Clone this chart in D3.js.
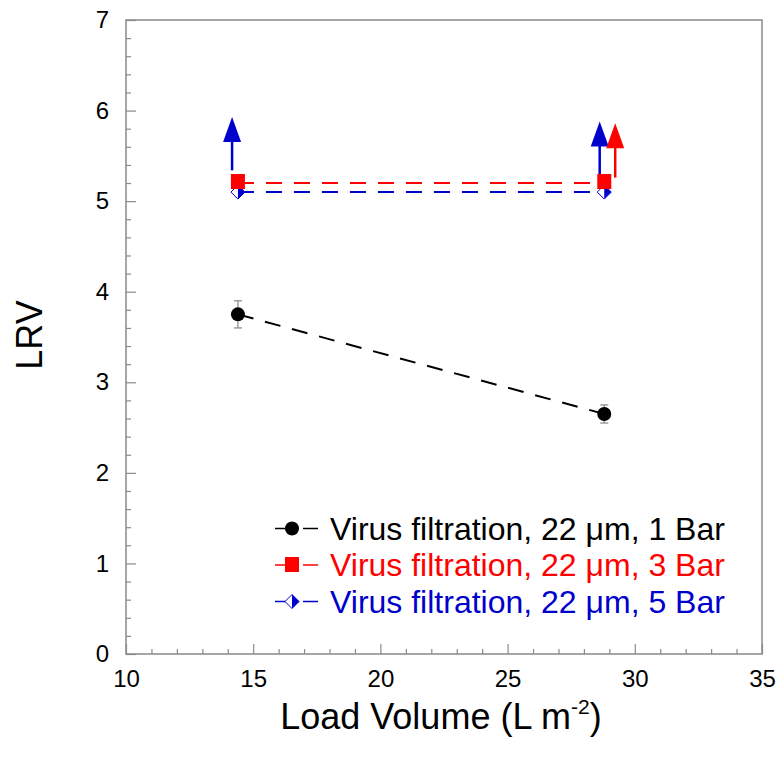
<!DOCTYPE html>
<html>
<head>
<meta charset="utf-8">
<script src="https://cdn.jsdelivr.net/npm/d3@7"></script>
<style>
  body { margin: 0; background: #fff; }
  text { font-family: "Liberation Sans", Arial, Helvetica, sans-serif; }
</style>
</head>
<body>
<div id="chart"></div>
<script>
// data
const loadVolume = [14.4, 28.8];
const lrv1Bar = [3.75, 2.65];
const err1Bar = [0.15, 0.1];
const lrv3Bar = [5.2, 5.2];
const lrv5Bar = [5.1, 5.1];
// lower-limit arrows (x position, start, tip)
const arrows5Bar = [{x: 14.17, from: 5.34, to: 5.93}, {x: 28.62, from: 5.29, to: 5.88}];
const arrows3Bar = [{x: 29.23, from: 5.26, to: 5.86}];
const xTicks = [10, 15, 20, 25, 30, 35];
const yTicks = [0, 1, 2, 3, 4, 5, 6, 7];
const legendLabels = ["Virus filtration, 22 \u03bcm, 1 Bar",
                      "Virus filtration, 22 \u03bcm, 3 Bar",
                      "Virus filtration, 22 \u03bcm, 5 Bar"];
const colors = ["#000000", "#ff0000", "#0000cc"];

// set the dimensions and margins of the graph
const margin = {top: 20, right: 15, bottom: 103, left: 126},
    width = 777 - margin.left - margin.right,
    height = 757 - margin.top - margin.bottom;

const svg = d3.select("#chart")
  .append("svg")
    .attr("width", width + margin.left + margin.right)
    .attr("height", height + margin.top + margin.bottom)
  .append("g")
    .attr("transform", "translate(" + margin.left + "," + margin.top + ")");

const x = d3.scaleLinear().domain([10, 35]).range([0, width]);
const y = d3.scaleLinear().domain([0, 7]).range([height, 0]);

const axisColor = "#8a8a8a";
const isMajorY = d => yTicks.some(t => Math.abs(t - d) < 1e-6);

// frame
svg.append("rect")
  .attr("width", width).attr("height", height)
  .attr("fill", "none").attr("stroke", axisColor).attr("stroke-width", 1.5);

// x axis: ticks inside, labels below
const xAxis = svg.append("g")
  .attr("transform", "translate(0," + height + ")")
  .call(d3.axisBottom(x).tickValues(d3.range(10, 35.01, 1))
    .tickSize(-5).tickPadding(16)
    .tickFormat(d => xTicks.includes(d) ? d : ""));
xAxis.select(".domain").remove();
xAxis.selectAll(".tick line")
  .attr("stroke", axisColor).attr("stroke-width", 1.2)
  .attr("y2", d => xTicks.includes(d) ? -10 : -5);
xAxis.selectAll(".tick text")
  .attr("font-size", 24).attr("fill", "#000").attr("dy", "0.71em");

// y axis
const yAxis = svg.append("g")
  .call(d3.axisLeft(y).tickValues(d3.range(0, 36).map(i => i * 0.2))
    .tickSize(-5).tickPadding(17)
    .tickFormat(d => isMajorY(d) ? Math.round(d) : ""));
yAxis.select(".domain").remove();
yAxis.selectAll(".tick line")
  .attr("stroke", axisColor).attr("stroke-width", 1.2)
  .attr("x2", d => isMajorY(d) ? 10 : 5);
yAxis.selectAll(".tick text")
  .attr("font-size", 24).attr("fill", "#000");

// axis titles
svg.append("text")
  .attr("transform", "translate(" + (29 - margin.left) + "," + (y(3.5) - 2) + ") rotate(-90)")
  .attr("text-anchor", "middle").attr("dy", "0.35em")
  .attr("font-size", 36).text("LRV");

const xTitle = svg.append("text")
  .attr("x", width / 2 - 3).attr("y", height + 75)
  .attr("text-anchor", "middle").attr("font-size", 36);
xTitle.append("tspan").text("Load Volume (L m");
xTitle.append("tspan").attr("font-size", 21).attr("dy", -15).text("-2");
xTitle.append("tspan").attr("dy", 15).text(")");

const dash = "16,12";

// dashed lines
const line = d3.line().x(d => x(d[0])).y(d => y(d[1]));
[lrv1Bar, lrv3Bar, lrv5Bar].forEach((vals, i) => {
  svg.append("path")
    .datum(loadVolume.map((v, j) => [v, vals[j]]))
    .attr("d", line)
    .attr("fill", "none")
    .attr("stroke", colors[i])
    .attr("stroke-width", 2)
    .attr("stroke-dasharray", dash);
});

// arrows
function drawArrows(data, color) {
  const g = svg.append("g");
  g.selectAll("line").data(data).enter().append("line")
    .attr("x1", d => x(d.x)).attr("x2", d => x(d.x))
    .attr("y1", d => y(d.from)).attr("y2", d => y(d.to) + 20)
    .attr("stroke", color).attr("stroke-width", 2.5);
  g.selectAll("path").data(data).enter().append("path")
    .attr("d", d => {
      const cx = x(d.x), ty = y(d.to);
      return "M" + cx + "," + ty + "L" + (cx - 9) + "," + (ty + 25) + "L" + (cx + 9) + "," + (ty + 25) + "Z";
    })
    .attr("fill", color);
}
drawArrows(arrows5Bar, colors[2]);
drawArrows(arrows3Bar, colors[1]);

// error bars for 1 Bar
const eb = svg.append("g").attr("stroke", "#888").attr("stroke-width", 1.2);
loadVolume.forEach((v, i) => {
  const cx = x(v), y0 = y(lrv1Bar[i] - err1Bar[i]), y1 = y(lrv1Bar[i] + err1Bar[i]);
  eb.append("line").attr("x1", cx).attr("x2", cx).attr("y1", y0).attr("y2", y1);
  eb.append("line").attr("x1", cx - 4).attr("x2", cx + 4).attr("y1", y0).attr("y2", y0);
  eb.append("line").attr("x1", cx - 4).attr("x2", cx + 4).attr("y1", y1).attr("y2", y1);
});

// markers
function circleMarker(g, cx, cy) {
  g.append("circle").attr("cx", cx).attr("cy", cy).attr("r", 7).attr("fill", colors[0]);
}
function squareMarker(g, cx, cy) {
  g.append("rect").attr("x", cx - 7).attr("y", cy - 8).attr("width", 14).attr("height", 15)
    .attr("fill", colors[1]);
}
function diamondMarker(g, cx, cy) {
  const r = 7;
  g.append("path")
    .attr("d", "M" + cx + "," + (cy - r) + "L" + (cx + r) + "," + cy + "L" + cx + "," + (cy + r) + "L" + (cx - r) + "," + cy + "Z")
    .attr("fill", "#fff").attr("stroke", colors[2]).attr("stroke-width", 1);
  g.append("path")
    .attr("d", "M" + cx + "," + (cy - r) + "L" + (cx + r) + "," + cy + "L" + cx + "," + (cy + r) + "Z")
    .attr("fill", colors[2]);
}

const marks = svg.append("g");
loadVolume.forEach((v, i) => {
  circleMarker(marks, x(v), y(lrv1Bar[i]));
  diamondMarker(marks, x(v), y(lrv5Bar[i]));
  squareMarker(marks, x(v), y(lrv3Bar[i]) - 1);
});

// legend
const legend = svg.append("g").attr("transform", "translate(" + (275 - margin.left) + "," + (528.5 - margin.top) + ")");
const markerFns = [circleMarker, squareMarker, diamondMarker];
legendLabels.forEach((label, i) => {
  const row = legend.append("g").attr("transform", "translate(0," + (i * 36.5) + ")");
  row.append("line").attr("x1", 0).attr("x2", 24).attr("stroke", colors[i]).attr("stroke-width", 1.5);
  row.append("line").attr("x1", 28).attr("x2", 43).attr("stroke", colors[i]).attr("stroke-width", 1.5);
  markerFns[i](row, 17, 0);
  row.append("text")
    .attr("x", 55).attr("dy", "0.35em")
    .attr("font-size", 32).attr("fill", colors[i])
    .text(label);
});
</script>
</body>
</html>
